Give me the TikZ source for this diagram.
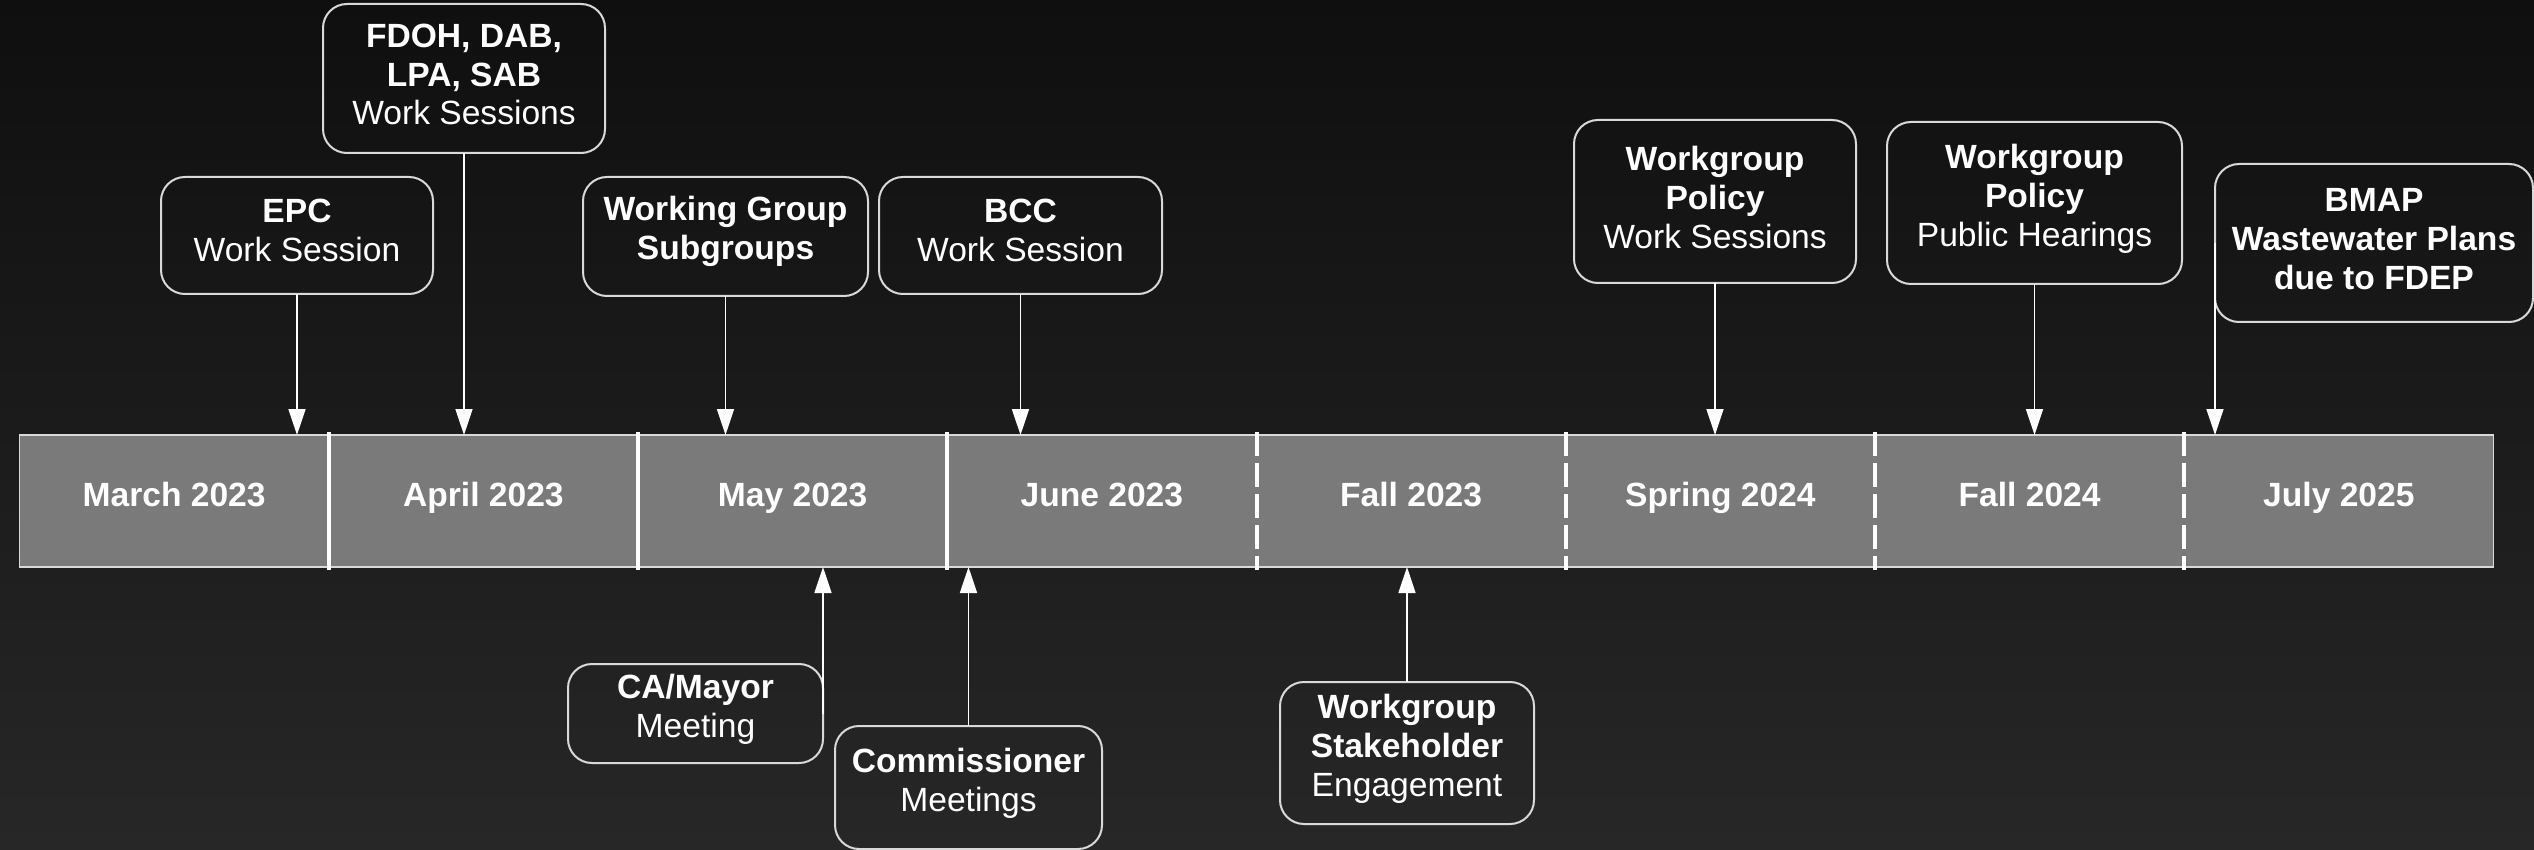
\documentclass[tikz,border=0pt]{standalone}
\usepackage{fontspec}
\setmainfont{Liberation Sans}
\usetikzlibrary{arrows.meta}
\definecolor{bgtop}{HTML}{0F0F0F}
\definecolor{bgbot}{HTML}{272727}
\definecolor{segfill}{HTML}{7A7A7A}
\definecolor{edgecol}{HTML}{D9D9D9}
\begin{document}
\begin{tikzpicture}[x=0.5pt,y=-0.5pt,
  evbox/.style={draw=edgecol, line width=1pt, rounded corners=12pt, inner sep=0pt, outer sep=0pt},
  evtext/.style={text=white, align=center, font=\fontsize{16.8}{19.4}\selectfont, inner sep=0pt},
  segbox/.style={fill=segfill, minimum width=154.625pt, minimum height=66pt, inner sep=0pt, outer sep=0pt, text=white, text height=12pt, text depth=6.6pt, font=\fontsize{16.8}{19.4}\selectfont\bfseries},
  conn/.style={draw=white, line width=0.8pt, -{Triangle[length=13pt,width=8.5pt]}},
  solidsep/.style={draw=white, line width=2pt},
  dashsep/.style={draw=white, line width=2pt, dash pattern=on 12pt off 3.5pt, dash phase=0pt}
]
\useasboundingbox (0,0) rectangle (2534,850);
\shade[top color=bgtop, bottom color=bgbot] (0,0) rectangle (2534,850);

% timeline segments
\node[segbox] (seg1) at (174.125,501) {March 2023};
\node[segbox] (seg2) at (483.375,501) {April 2023};
\node[segbox] (seg3) at (792.625,501) {May 2023};
\node[segbox] (seg4) at (1101.875,501) {June 2023};
\node[segbox] (seg5) at (1411.125,501) {Fall 2023};
\node[segbox] (seg6) at (1720.375,501) {Spring 2024};
\node[segbox] (seg7) at (2029.625,501) {Fall 2024};
\node[segbox] (seg8) at (2338.875,501) {July 2025};
\draw[draw=edgecol, line width=0.8pt] (seg1.north west) rectangle (seg8.south east);
\foreach \s in {seg1,seg2,seg3}
  \draw[solidsep] ([yshift=1.5pt]\s.north east) -- ([yshift=-1.5pt]\s.south east);
\foreach \s in {seg4,seg5,seg6,seg7}
  \draw[dashsep] ([yshift=1.5pt]\s.north east) -- ([yshift=-1.5pt]\s.south east);

% top boxes
\node[evbox, minimum width=136pt, minimum height=58.5pt] (epc) at (297,235.5) {};
\node[evtext, yshift=2.5pt] (epct) at (epc.center) {\textbf{EPC}\\Work Session};

\node[evbox, minimum width=141pt, minimum height=74.5pt] (fdoh) at (464,78.5) {};
\node[evtext, yshift=2pt] (fdoht) at (fdoh.center) {\textbf{FDOH, DAB,}\\\textbf{LPA, SAB}\\Work Sessions};

\node[evbox, minimum width=142.5pt, minimum height=59.5pt] (wgs) at (725.5,236.5) {};
\node[evtext, yshift=2.5pt] (wgst) at (wgs.center) {\textbf{Working Group}\\\textbf{Subgroups}};

\node[evbox, minimum width=141.5pt, minimum height=58.5pt] (bcc) at (1020.5,235.5) {};
\node[evtext, yshift=2.5pt] (bcct) at (bcc.center) {\textbf{BCC}\\Work Session};

\node[evbox, minimum width=141pt, minimum height=81.5pt] (wpws) at (1715,201.5) {};
\node[evtext, yshift=2pt] (wpwst) at (wpws.center) {\textbf{Workgroup}\\\textbf{Policy}\\Work Sessions};

\node[evbox, minimum width=147.5pt, minimum height=81pt] (wpph) at (2034.5,203) {};
\node[evtext, yshift=2pt] (wppht) at (wpph.center) {\textbf{Workgroup}\\\textbf{Policy}\\Public Hearings};

\node[evbox, minimum width=159pt, minimum height=79pt] (bmap) at (2374,243) {};
\node[evtext, yshift=2pt] (bmapt) at (bmap.center) {\textbf{BMAP}\\\textbf{Wastewater Plans}\\\textbf{due to FDEP}};

% bottom boxes
\node[evbox, minimum width=127.5pt, minimum height=49.5pt] (cam) at (695.5,713.5) {};
\node[evtext, yshift=2pt] (camt) at (cam.center) {\textbf{CA/Mayor}\\Meeting};

\node[evbox, minimum width=133.5pt, minimum height=61.5pt] (comm) at (968.5,787.5) {};
\node[evtext, yshift=2pt] (commt) at (comm.center) {\textbf{Commissioner}\\Meetings};

\node[evbox, minimum width=127pt, minimum height=71pt] (stk) at (1407,753) {};
\node[evtext, yshift=2pt] (stkt) at (stk.center) {\textbf{Workgroup}\\\textbf{Stakeholder}\\Engagement};

% connectors
\draw[conn] (epc.south) -- (epc.south |- seg1.north);
\draw[conn] (fdoh.south) -- (fdoh.south |- seg2.north);
\draw[conn] (wgs.south) -- (wgs.south |- seg3.north);
\draw[conn] (bcc.south) -- (bcc.south |- seg4.north);
\draw[conn] (wpws.south) -- (wpws.south |- seg6.north);
\draw[conn] (wpph.south) -- (wpph.south |- seg7.north);
\draw[conn] (bmap.west) -- (bmap.west |- seg8.north);
\draw[conn] (cam.east) -- (cam.east |- seg3.south);
\draw[conn] (comm.north) -- (comm.north |- seg4.south);
\draw[conn] (stk.north) -- (stk.north |- seg5.south);
\end{tikzpicture}
\end{document}
